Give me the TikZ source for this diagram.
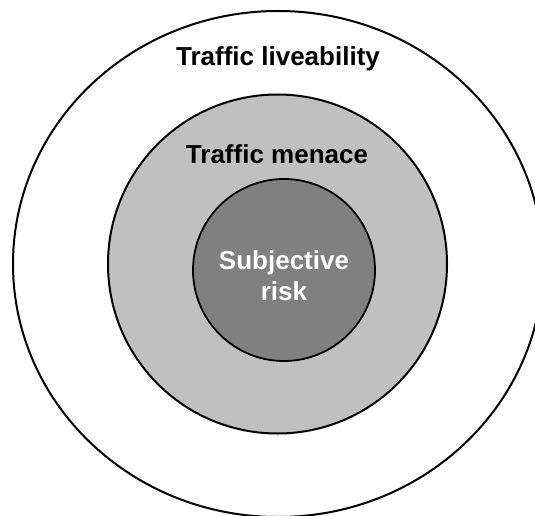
\documentclass[tikz,border=0pt]{standalone}
\usepackage{fontspec}
\setmainfont{Liberation Sans}
\definecolor{midgray}{HTML}{C0C0C0}
\definecolor{darkgray2}{HTML}{808080}
\tikzset{
  ring/.style={draw=black, line width=2pt},
  lbl/.style={font=\fontsize{26}{31}\selectfont\bfseries, anchor=base, inner sep=0pt},
}
\begin{document}
\begin{tikzpicture}[x=1pt,y=-1pt]
\useasboundingbox (0,0) rectangle (535,516);
\clip (0,0) rectangle (535,516);
\fill[white] (0,0) rectangle (535,516);
\draw[ring] (278,264) ellipse [x radius=265, y radius=253];
\draw[ring, fill=midgray] (277.5,264) circle [radius=169.5];
\draw[ring, fill=darkgray2, line width=1.8pt] (284,270) circle [radius=91];
\node[lbl] (liv) at (278,66) {Traffic liveability};
\node[lbl] (men) at (277,163) {Traffic menace};
\node[lbl, text=white] (subj) at (284,269) {Subjective};
\node[lbl, text=white] (risk) at (284,300) {risk};
\end{tikzpicture}
\end{document}
